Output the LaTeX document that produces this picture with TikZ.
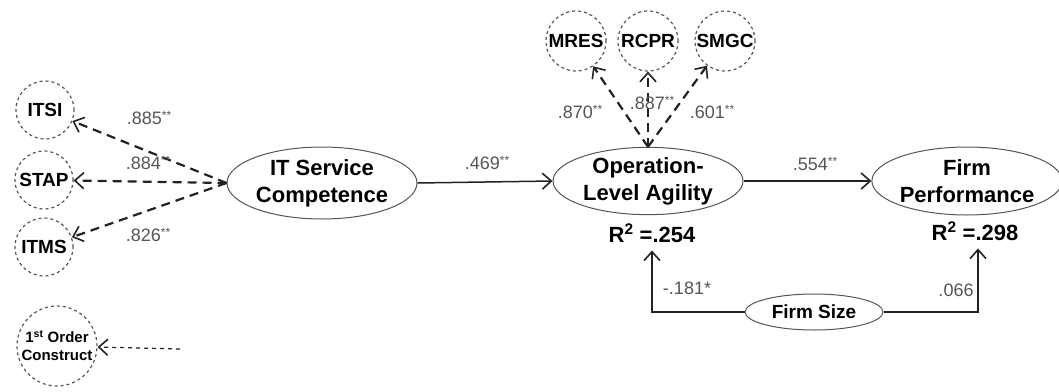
\documentclass[tikz,border=0pt]{standalone}
\usepackage{fontspec}
\setmainfont{Liberation Sans}
\usetikzlibrary{shapes.geometric,arrows.meta}
\definecolor{lgray}{HTML}{555555}
\definecolor{dline}{HTML}{222222}
\newcommand{\stars}[1]{\raisebox{5pt}{\fontsize{12}{12}\selectfont #1}}
\tikzset{
  ind/.style={circle, draw=lgray, dash pattern=on 3pt off 3pt, line width=1.2pt,
    minimum size=58pt, inner sep=0pt, font=\bfseries\fontsize{19}{20}\selectfont},
  lat/.style={ellipse, draw=lgray, line width=1pt, inner sep=0pt, align=center,
    font=\bfseries\fontsize{22}{27}\selectfont},
  rsq/.style={inner sep=0pt, font=\bfseries\fontsize{22}{25}\selectfont},
  tip/.style={-{Straight Barb[length=9pt,width=16pt,line width=1.6pt]}},
  solidpath/.style={draw=dline, line width=1.5pt, tip},
  dashpath/.style={draw=dline, line width=2.2pt, dash pattern=on 9pt off 6pt, tip},
  coef/.style={text=lgray, inner sep=0pt, font=\fontsize{18}{19}\selectfont},
}
\begin{document}
\begin{tikzpicture}[x=1pt,y=-1pt]
\useasboundingbox (0,0) rectangle (1059,391);
% first order indicators left
\node[ind] (itsi) at (45,110) {ITSI};
\node[ind] (stap) at (44,180) {STAP};
\node[ind] (itms) at (44,247) {ITMS};
% top indicators
\node[ind, minimum size=60pt] (mres) at (576,41) {MRES};
\node[ind, minimum size=60pt] (rcpr) at (648,41) {RCPR};
\node[ind, minimum size=60pt] (smgc) at (725,41) {SMGC};
% latent constructs
\node[lat, minimum width=190pt, minimum height=72pt] (itsc) at (322,183) {IT Service\\Competence};
\node[lat, minimum width=190pt, minimum height=66pt] (ola) at (648,181) {Operation-\\Level Agility};
\node[lat, minimum width=176pt, minimum height=68pt] (fp) at (967,181) {Firm\\Performance};
\node[rsq] (r2a) at (652,233) {R\textsuperscript{2} =.254};
\node[rsq] (r2b) at (975,231) {R\textsuperscript{2} =.298};
\node[lat, minimum width=138pt, minimum height=36pt, font=\bfseries\fontsize{19}{20}\selectfont] (fs) at (814,312) {Firm Size};
% legend
\node[ind, minimum size=80pt, align=center, font=\bfseries\fontsize{15}{18}\selectfont] (foc) at (57,346) {1\textsuperscript{st} Order\\Construct};
\coordinate (legstart) at (180,349);
% connectors
\draw[dashpath] (itsc.west) -- (itsi);
\draw[dashpath] (itsc.west) -- (stap);
\draw[dashpath] (itsc.west) -- (itms);
\draw[dashpath] (ola.north) -- (mres);
\draw[dashpath] (ola.north) -- (rcpr);
\draw[dashpath] (ola.north) -- (smgc);
\draw[solidpath] (itsc.east) -- (ola.west);
\draw[solidpath] (ola.east) -- (fp.west);
\draw[solidpath] (fs.west) -| ([yshift=-8pt]r2a.south);
\draw[solidpath] (fs.east) -| ([xshift=3pt,yshift=-8pt]r2b.south);
\draw[draw=dline, line width=1.2pt, dash pattern=on 4pt off 4pt, tip] (legstart) -- (foc);
% coefficients
\node[coef] (c1) at (149,118) {.885\stars{**}};
\node[coef] (c2) at (148,163) {.884\stars{**}};
\node[coef] (c3) at (148,235) {.826\stars{**}};
\node[coef] (c4) at (487,163) {.469\stars{**}};
\node[coef] (c5) at (815,164) {.554\stars{**}};
\node[coef] (c6) at (580,112) {.870\stars{**}};
\node[coef] (c7) at (652,103) {.887\stars{**}};
\node[coef] (c8) at (712,112) {.601\stars{**}};
\node[coef] (c9) at (687,288) {-.181*};
\node[coef] (c10) at (956,290) {.066};
\end{tikzpicture}
\end{document}
